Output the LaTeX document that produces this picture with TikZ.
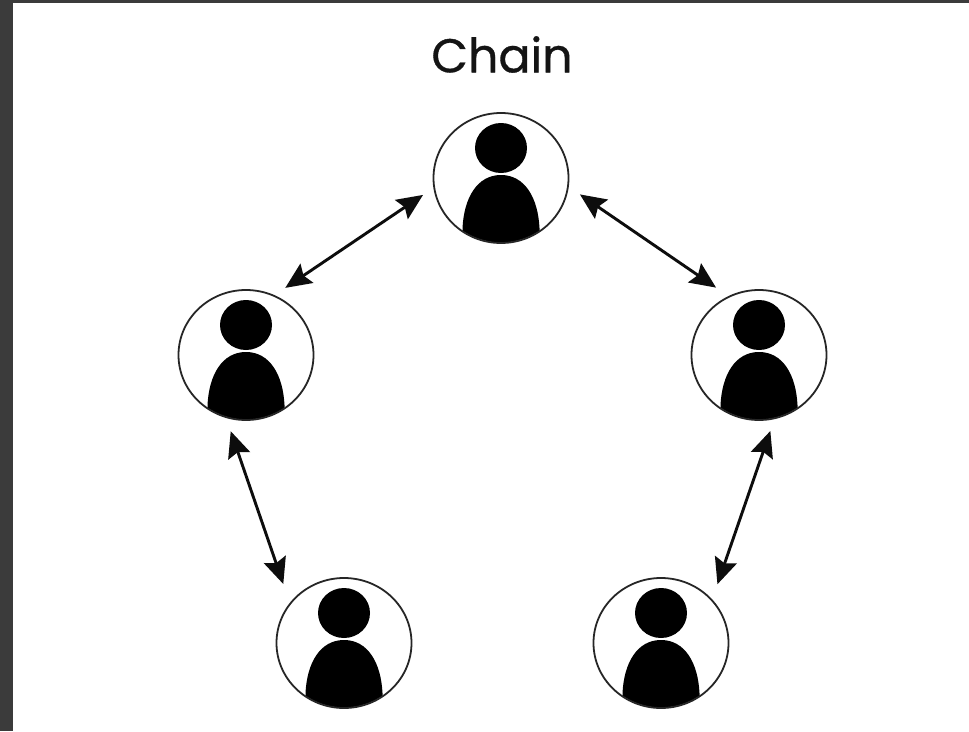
\documentclass[tikz,border=0pt]{standalone}
\usepackage{fontspec}
\setmainfont{Poppins}
\newfontfamily\ttlfont[RawFeature={embolden=0.7}]{Poppins}
\usetikzlibrary{shapes.geometric,arrows.meta}
\tikzset{
  x=1pt,y=-1pt,
  ring/.style={ellipse,draw=black!85,line width=1.8pt,minimum width=135pt,minimum height=130pt,inner sep=0pt,outer sep=0pt},
  link/.style={line width=2.9pt,draw=black!95,{Stealth[length=26pt,width=23pt,inset=4pt]}-{Stealth[length=26pt,width=23pt,inset=4pt]}},
  title/.style={font=\ttlfont\fontsize{47.5}{52}\selectfont,text=black!92,inner sep=0pt},
  person/.pic={
    \begin{scope}
      \clip (0,0) ellipse [x radius=67pt,y radius=64.5pt];
      \fill[black] (-38.5,70) -- (-38.5,50) .. controls (-37,20) and (-24,-3) .. (0,-3)
        .. controls (24,-3) and (37,20) .. (38.5,50) -- (38.5,70) -- cycle;
    \end{scope}
    \fill[black] (0,-30) ellipse [x radius=26pt,y radius=25pt];
  }
}
\begin{document}
\begin{tikzpicture}
  \useasboundingbox (0,0) rectangle (969,731);
  \fill[black!77] (0,0) rectangle (969,731);
  \fill[white] (13,3) rectangle (969,731);
  \node[title] (ttl) at (502,54.5) {Chain};
  \pic at (501,178) {person};
  \pic at (246,355) {person};
  \pic at (759,355) {person};
  \pic at (344,643) {person};
  \pic at (661,643) {person};
  \node[ring] (top) at (501,178) {};
  \node[ring] (left) at (246,355) {};
  \node[ring] (right) at (759,355) {};
  \node[ring] (bl) at (344,643) {};
  \node[ring] (br) at (661,643) {};
  \draw[link,shorten <=13.5pt,shorten >=14pt] (top.188) -- (left.65);
  \draw[link,shorten <=14.5pt,shorten >=16pt] (top.-7.5) -- (right.117);
  \draw[link,shorten <=15pt,shorten >=21pt] (left.252) -- (bl.144);
  \draw[link,shorten <=13.5pt,shorten >=17pt] (right.-76) -- (br.40.4);
\end{tikzpicture}
\end{document}
